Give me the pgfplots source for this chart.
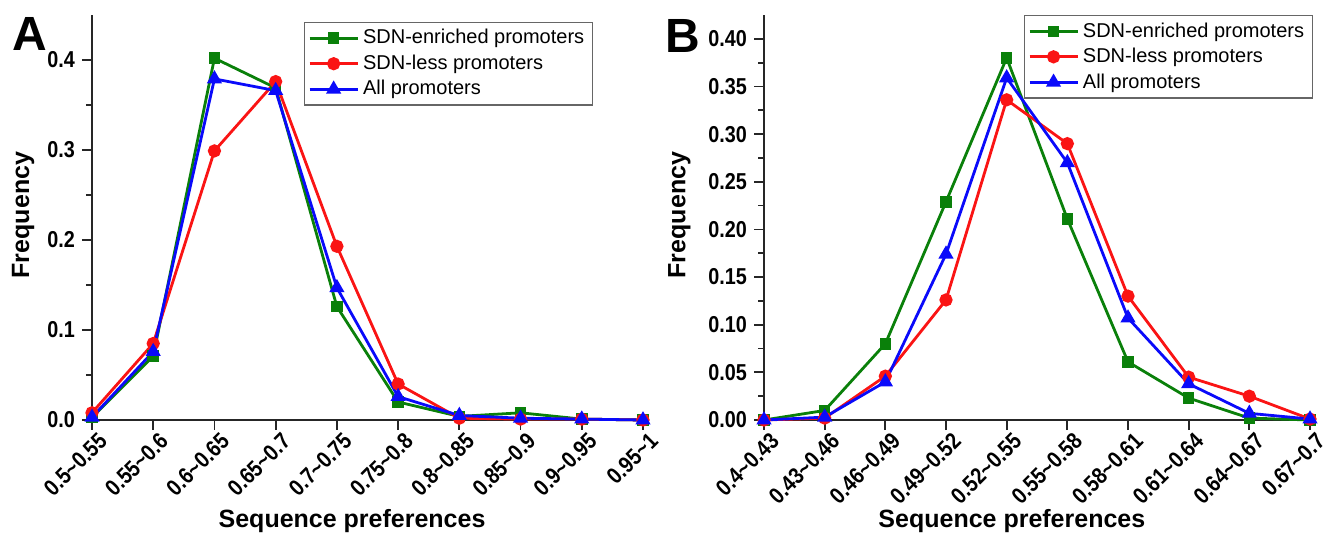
\documentclass[border=0pt]{standalone}
\usepackage{fontspec}
\setmainfont{Liberation Sans}
\newfontfamily\tickfont[FakeStretch=0.86]{Liberation Sans}
\usepackage{pgfplots}
\pgfplotsset{compat=1.18}
\definecolor{sgreen}{RGB}{10,128,10}
\definecolor{sred}{RGB}{250,20,20}
\definecolor{sblue}{RGB}{10,10,250}
\newcommand\tl{\textasciitilde}
\pgfplotsset{
  panel/.style={
    scale only axis,
    axis lines*=left,
    axis line style={line width=1pt, black!85},
    tick align=outside,
    major tick length=5pt,
    minor tick length=3pt,
    every tick/.style={line width=0.9pt, black!85},
    xmin=0, xmax=9, ymin=0,
    xtick={0,...,9},
    clip=false,
    tick label style={font=\tickfont\bfseries\fontsize{11.5}{13}\selectfont},
    /pgf/number format/assume math mode=true,
    xticklabel style={rotate=45, anchor=north east, inner sep=0.5pt, xshift=2pt, yshift=-1.5pt},
    label style={font=\bfseries\fontsize{12.5}{15}\selectfont},
    minor y tick num=1,
    legend cell align=left,
    legend style={font=\fontsize{10}{12}\selectfont, draw=black!60, line width=0.6pt,
      row sep=0pt, inner xsep=2pt, inner ysep=1.5pt},
    legend image code/.code={\draw[mark repeat=2,mark phase=2] plot coordinates {(0pt,0pt) (12pt,0pt) (24pt,0pt)};},
    every axis plot/.append style={line width=1.4pt},
  },
  sg/.style={color=sgreen, mark=square*, mark size=2.2pt, mark options={solid}},
  sr/.style={color=sred, mark=*, mark size=2.6pt, mark options={solid}},
  sb/.style={color=sblue, mark=triangle*, mark size=3pt, mark options={solid}},
}
\begin{document}
\begin{tikzpicture}
\path[use as bounding box] (0,0) rectangle (663.5pt,273pt);
% Panel A
\begin{axis}[panel,
  at={(46pt,63pt)}, anchor=south west,
  width=275.5pt, height=202.5pt,
  ymax=0.45,
  ytick={0,0.1,0.2,0.3,0.4},
  yticklabel style={/pgf/number format/.cd, fixed, fixed zerofill, precision=1},
  xticklabels={0.5\tl0.55,0.55\tl0.6,0.6\tl0.65,0.65\tl0.7,0.7\tl0.75,0.75\tl0.8,0.8\tl0.85,0.85\tl0.9,0.9\tl0.95,0.95\tl1},
  xlabel={Sequence preferences},
  ylabel={Frequency},
  xlabel style={at={(axis description cs:0.472,-0.25)}, anchor=center},
  ylabel style={at={(axis description cs:-0.125,0.506)}, anchor=center},
  legend style={at={(0.909,0.983)}, anchor=north east},
]
\addplot[sg] coordinates {(0,0.003) (1,0.071) (2,0.402) (3,0.369) (4,0.126) (5,0.020) (6,0.004) (7,0.008) (8,0.001) (9,0.000)};
\addplot[sr] coordinates {(0,0.008) (1,0.085) (2,0.299) (3,0.376) (4,0.193) (5,0.040) (6,0.002) (7,0.001) (8,0.001) (9,0.000)};
\addplot[sb] coordinates {(0,0.003) (1,0.076) (2,0.379) (3,0.366) (4,0.147) (5,0.026) (6,0.005) (7,0.002) (8,0.001) (9,0.000)};
\legend{SDN-enriched promoters, SDN-less promoters, All promoters}
\end{axis}
\node[font=\bfseries\fontsize{24}{28}\selectfont] at (15pt,256pt) {A};
% Panel B
\begin{axis}[panel,
  at={(382pt,63pt)}, anchor=south west,
  width=273pt, height=202.5pt,
  ymax=0.425,
  ytick={0,0.05,0.1,0.15,0.2,0.25,0.3,0.35,0.4},
  yticklabel style={/pgf/number format/.cd, fixed, fixed zerofill, precision=2},
  xticklabels={0.4\tl0.43,0.43\tl0.46,0.46\tl0.49,0.49\tl0.52,0.52\tl0.55,0.55\tl0.58,0.58\tl0.61,0.61\tl0.64,0.64\tl0.67,0.67\tl0.7},
  xlabel={Sequence preferences},
  ylabel={Frequency},
  xlabel style={at={(axis description cs:0.454,-0.25)}, anchor=center},
  ylabel style={at={(axis description cs:-0.155,0.506)}, anchor=center},
  legend style={at={(1.005,1)}, anchor=north east},
]
\addplot[sg] coordinates {(0,0.000) (1,0.010) (2,0.080) (3,0.229) (4,0.380) (5,0.211) (6,0.061) (7,0.023) (8,0.002) (9,0.000)};
\addplot[sr] coordinates {(0,0.000) (1,0.002) (2,0.046) (3,0.126) (4,0.336) (5,0.290) (6,0.130) (7,0.045) (8,0.025) (9,0.001)};
\addplot[sb] coordinates {(0,0.000) (1,0.003) (2,0.040) (3,0.174) (4,0.359) (5,0.270) (6,0.107) (7,0.038) (8,0.007) (9,0.001)};
\legend{SDN-enriched promoters, SDN-less promoters, All promoters}
\end{axis}
\node[font=\bfseries\fontsize{24}{28}\selectfont] at (341.5pt,255pt) {B};
\end{tikzpicture}
\end{document}
